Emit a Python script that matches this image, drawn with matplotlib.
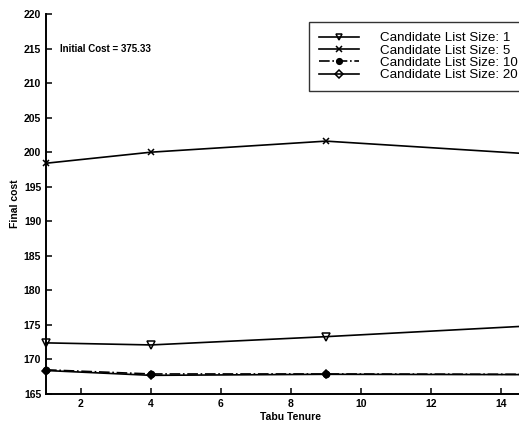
import matplotlib
matplotlib.use("Agg")
import matplotlib.pyplot as plt

plt.rcParams["font.family"] = ["Liberation Sans", "DejaVu Sans"]

# tabu tenure values and final cost for each candidate list size
tenure = [1, 4, 9, 15]
cost_size1 = [172.4, 172.1, 173.3, 174.9]
cost_size5 = [198.4, 200.0, 201.6, 199.7]
cost_size10 = [168.5, 167.9, 167.9, 167.85]
cost_size20 = [168.4, 167.7, 167.85, 167.8]

series = [
    ("Candidate List Size: 1", cost_size1, "-", "v", "none", 5.5),
    ("Candidate List Size: 5", cost_size5, "-", "x", "k", 4.5),
    ("Candidate List Size: 10", cost_size10, "-.", "o", "k", 4.5),
    ("Candidate List Size: 20", cost_size20, "-", "D", "none", 4.5),
]

x_ticks = [2, 4, 6, 8, 10, 12, 14]
y_ticks = list(range(165, 221, 5))

fig = plt.figure(figsize=(5.19, 4.21), dpi=100)
ax = fig.add_axes([46 / 519, 27 / 421, 490 / 519, 380 / 421])

for label, vals, ls, mk, fc, ms in series:
    ax.plot(tenure, vals, color="k", linestyle=ls, linewidth=1.2,
            marker=mk, markersize=ms, markerfacecolor=fc,
            markeredgecolor="k", markeredgewidth=1.1, label=label, clip_on=False)

ax.set_xlim(1, 15)
ax.set_ylim(165, 220)
ax.set_xticks(x_ticks)
ax.set_yticks(y_ticks)
ax.tick_params(direction="in", length=4, width=1.1, labelsize=7.5)
for lab in ax.get_xticklabels() + ax.get_yticklabels():
    lab.set_fontweight("bold")

for side in ("top", "right"):
    ax.spines[side].set_visible(False)
for side in ("left", "bottom"):
    ax.spines[side].set_linewidth(1.4)

ax.set_xlabel("Tabu Tenure", fontsize=7.5, fontweight="bold", labelpad=2)
ax.set_ylabel("Final cost", fontsize=7.5, fontweight="bold", labelpad=3)

ax.text(1.4, 215, "Initial Cost = 375.33", fontsize=7, fontweight="bold",
        va="center", ha="left")

leg = ax.legend(loc="upper left", bbox_to_anchor=(309 / 519, 1 - 22 / 421),
                bbox_transform=fig.transFigure, fontsize=9.6, frameon=True,
                fancybox=False, edgecolor="k", handlelength=3.0,
                handletextpad=1.6, labelspacing=0.0, borderpad=0.75,
                borderaxespad=0, markerscale=0.9)
leg.get_frame().set_linewidth(1.0)

fig.savefig("out.png", dpi=100)
